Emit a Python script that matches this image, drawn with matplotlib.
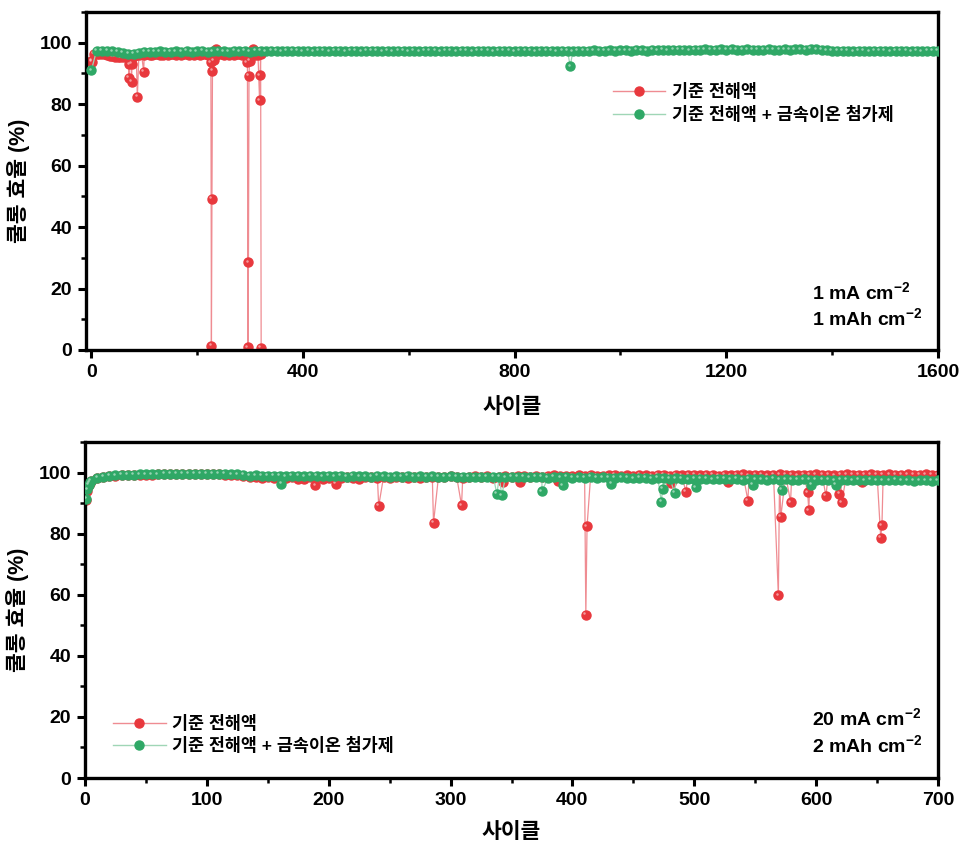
import numpy as np
import matplotlib
matplotlib.use("Agg")
import matplotlib.pyplot as plt
from matplotlib.lines import Line2D
from matplotlib.transforms import ScaledTranslation

plt.rcParams['font.family'] = ['Liberation Sans', 'Noto Sans CJK KR']
plt.rcParams['font.weight'] = 'bold'
plt.rcParams['axes.labelweight'] = 'bold'
plt.rcParams['mathtext.fontset'] = 'custom'
plt.rcParams['mathtext.rm'] = 'Liberation Sans:bold'
plt.rcParams['mathtext.default'] = 'rm'
plt.rcParams['axes.unicode_minus'] = True

RED = '#e8383d'
GREEN = '#2fa866'
RED_LINE = '#ef8c92'
GREEN_LINE = '#9fd6b6'

LBL_BASE = '기준 전해액'
LBL_ADD = '기준 전해액 + 금속이온 첨가제'
XLABEL = '사이클'
YLABEL = '쿨롱 효율 (%)'

# ---- top panel: 1 mA cm-2, 1 mAh cm-2 ----
top_green_cyc = np.arange(0, 1601, 10)
top_green_val = [
    91.0,
    97.4, 97.3, 97.4, 97.2, 97.0, 96.7, 96.3, 96.4, 96.7, 97.0,
    97.1, 97.0, 97.2, 97.1, 97.0, 97.2, 97.1, 97.3, 97.0, 97.2,
    97.3, 97.1, 97.2, 97.3, 97.2, 97.1, 97.3, 97.2, 97.3, 97.1,
    97.4, 97.3, 97.2, 97.3, 97.4, 97.2, 97.3, 97.4, 97.3, 97.2,
    97.3, 97.2, 97.4, 97.3, 97.2, 97.3, 97.4, 97.2, 97.3, 97.3,
    97.2, 97.3, 97.4, 97.3, 97.2, 97.3, 97.2, 97.4, 97.3, 97.2,
    97.3, 97.2, 97.3, 97.4, 97.3, 97.2, 97.3, 97.3, 97.2, 97.4,
    97.3, 97.2, 97.3, 97.4, 97.3, 97.2, 97.3, 97.4, 97.3, 97.2,
    97.3, 97.4, 97.3, 97.2, 97.3, 97.4, 97.3, 97.2, 97.3, 97.3,
    97.2, 97.3, 97.4, 97.3, 97.5, 97.4, 97.3, 97.5, 97.4, 97.5,
    97.5, 97.4, 97.6, 97.5, 97.4, 97.6, 97.5, 97.6, 97.5, 97.6,
    97.7, 97.6, 97.5, 97.7, 97.6, 97.8, 97.7, 97.6, 97.8, 97.7,
    97.8, 97.7, 97.6, 97.8, 97.7, 97.6, 97.7, 97.8, 97.6, 97.7,
    97.8, 97.7, 97.9, 97.8, 97.7, 98.0, 97.8, 97.6, 97.5, 97.4,
    97.3, 97.4, 97.3, 97.2, 97.4, 97.3, 97.2, 97.3, 97.4, 97.3,
    97.2, 97.3, 97.4, 97.3, 97.2, 97.3, 97.2, 97.3, 97.4, 97.3,
]
top_green_spk_cyc = [905]
top_green_spk_val = [92.3]

top_red_cyc = np.arange(0, 321, 5)
top_red_val = [
    94.2,
    96.3, 96.4, 96.2, 96.3, 96.2, 96.0, 95.8, 95.6, 95.5, 95.4,
    95.3, 95.2, 95.4, 95.5, 95.7, 95.8, 96.0, 96.1, 96.2, 96.1,
    96.2, 96.0, 96.1, 96.3, 96.2, 95.9, 96.1, 96.2, 96.0, 96.2,
    96.3, 96.1, 96.2, 96.0, 96.2, 96.3, 96.1, 96.2, 96.0, 96.3,
    96.1, 96.2, 96.3, 96.1, 96.0, 96.2, 96.1, 96.3, 96.2, 96.1,
    96.2, 96.0, 96.3, 96.1, 96.2, 96.3, 96.1, 96.0, 96.2, 96.1,
    96.2, 96.1, 96.0, 96.2,
]
top_red_spk_cyc = [1, 71, 72, 76, 77, 87, 99, 226, 227, 228, 229, 231, 236,
                   294, 296, 297, 298, 299, 306, 318, 319, 321]
top_red_spk_val = [93.8, 88.5, 93.0, 87.2, 93.2, 82.3, 90.6, 93.6, 1.4, 49.1, 90.8, 94.3, 97.8,
                   93.6, 0.9, 28.5, 89.2, 94.0, 97.8, 81.2, 89.4, 0.8]

# ---- bottom panel: 20 mA cm-2, 2 mAh cm-2 ----
bot_cyc = np.arange(5, 701, 5)
bot_green_val = [
    97.3, 98.2, 98.7, 99.0, 99.1, 99.2, 99.3, 99.3, 99.4, 99.4,
    99.4, 99.4, 99.5, 99.5, 99.5, 99.5, 99.5, 99.5, 99.5, 99.5,
    99.5, 99.5, 99.5, 99.4, 99.4, 99.3, 99.0, 99.1, 99.0, 99.0,
    98.9, 99.0, 98.8, 98.9, 99.0, 98.8, 98.9, 98.9, 98.8, 98.9,
    98.8, 98.9, 98.7, 98.9, 98.8, 98.8, 98.7, 98.9, 98.8, 98.7,
    98.8, 98.7, 98.9, 98.6, 98.8, 98.7, 98.8, 98.6, 98.7, 98.8,
    98.6, 98.7, 98.5, 98.7, 98.6, 98.5, 98.7, 98.6, 98.4, 98.6,
    98.5, 98.6, 98.4, 98.5, 98.6, 98.3, 98.5, 98.4, 98.5, 98.3,
    98.4, 98.3, 98.5, 98.2, 98.4, 98.3, 98.2, 98.4, 98.3, 98.1,
    98.3, 98.2, 98.0, 98.2, 98.1, 97.9, 98.1, 98.0, 97.8, 98.0,
    97.9, 98.0, 97.8, 97.9, 98.0, 97.8, 97.9, 97.7, 97.9, 97.8,
    97.8, 97.7, 97.9, 97.6, 97.8, 97.7, 97.6, 97.8, 97.7, 97.6,
    97.7, 97.6, 97.5, 97.7, 97.6, 97.5, 97.6, 97.4, 97.6, 97.5,
    97.5, 97.4, 97.6, 97.4, 97.5, 97.3, 97.4, 97.5, 97.3, 97.4,
]
bot_green_spk_cyc = [1, 2, 3, 4, 161, 338, 342, 375, 392, 432, 473, 474, 484, 501,
                     548, 572, 596, 616]
bot_green_spk_val = [91.5, 94.5, 96.0, 96.8, 96.2, 93.0, 92.5, 93.9, 95.8, 96.2, 90.5, 94.7, 93.3, 95.2,
                     96.0, 94.3, 96.0, 96.0]

bot_red_val = [
    97.2, 98.1, 98.6, 98.9, 99.0, 99.1, 99.2, 99.2, 99.3, 99.3,
    99.3, 99.4, 99.4, 99.4, 99.4, 99.4, 99.4, 99.4, 99.4, 99.4,
    99.4, 99.4, 99.3, 99.3, 99.2, 99.0, 98.6, 98.4, 98.2, 98.5,
    98.3, 98.6, 98.2, 98.5, 98.0, 97.8, 98.4, 98.6, 97.9, 98.3,
    98.4, 98.2, 98.6, 98.3, 97.9, 98.4, 98.5, 98.2, 98.6, 98.3,
    98.5, 98.7, 98.3, 98.6, 98.2, 98.5, 98.7, 98.4, 98.6, 98.8,
    98.6, 98.3, 98.7, 98.9, 98.5, 98.8, 98.3, 98.7, 98.9, 98.6,
    98.8, 99.0, 98.7, 98.9, 98.6, 98.9, 99.1, 98.8, 99.0, 98.9,
    99.1, 98.9, 99.2, 99.0, 98.8, 99.1, 99.2, 98.9, 99.1, 99.0,
    99.2, 99.1, 98.9, 99.2, 99.3, 99.0, 99.2, 99.1, 99.3, 99.2,
    99.1, 99.3, 99.2, 99.0, 99.3, 99.1, 99.2, 99.4, 99.1, 99.2,
    99.3, 99.1, 99.2, 99.4, 99.2, 99.3, 99.1, 99.3, 99.2, 99.4,
    99.2, 99.3, 99.1, 99.3, 99.4, 99.2, 99.3, 99.2, 99.4, 99.3,
    99.2, 99.4, 99.3, 99.2, 99.4, 99.3, 99.2, 99.4, 99.3, 99.2,
]
bot_red_spk_cyc = [1, 2, 3, 4, 189, 206, 241, 286, 309, 343, 357, 388, 411, 412,
                   481, 493, 528, 544, 569, 571, 579, 593, 594, 608, 619, 621, 638, 653, 654]
bot_red_spk_val = [91.0, 94.0, 95.8, 96.6, 95.8, 96.3, 89.0, 83.5, 89.3, 97.0, 96.9, 97.1, 53.5, 82.4,
                   96.5, 93.6, 96.8, 90.8, 59.8, 85.4, 90.3, 93.5, 87.6, 92.3, 93.0, 90.2, 97.0, 78.7, 82.7]


def merge(cyc, val, spk_cyc, spk_val):
    x = np.concatenate([np.asarray(cyc, float), np.asarray(spk_cyc, float)])
    y = np.concatenate([np.asarray(val, float), np.asarray(spk_val, float)])
    order = np.argsort(x, kind='stable')
    return x[order], y[order]


def draw_series(ax, x, y, col, lcol, z):
    ax.plot(x, y, '-', color=lcol, lw=0.9, zorder=z)
    ax.plot(x, y, 'o', color=col, mec=col, ms=6.5, zorder=z + 0.1)
    # small highlight so the dots look like little balls
    hl = ax.transData + ScaledTranslation(-1.2 / 72, 1.2 / 72, ax.figure.dpi_scale_trans)
    ax.plot(x, y, 'o', color='white', mec='none', ms=1.8, alpha=0.5,
            transform=hl, zorder=z + 0.2)


def style_axes(ax, xmin, xmax, xmaj, xmin_step):
    ax.set_xlim(xmin, xmax)
    ax.set_ylim(0, 110)
    ax.set_xticks(np.arange(0, xmax + 1, xmaj))
    ax.set_xticks(np.arange(0, xmax + 1, xmin_step), minor=True)
    ax.set_yticks(np.arange(0, 101, 20))
    ax.set_yticks(np.arange(10, 111, 20), minor=True)
    for s in ax.spines.values():
        s.set_linewidth(2.4)
    ax.tick_params(which='major', direction='out', length=6, width=2.2, labelsize=14, pad=4)
    ax.tick_params(which='minor', direction='out', length=3.5, width=1.8)
    ax.set_xlabel(XLABEL, fontsize=15.5)
    ax.set_ylabel(YLABEL, fontsize=15.5)


def legend_handles():
    return [
        Line2D([], [], color=RED_LINE, lw=1, marker='o', mfc=RED, mec=RED, ms=6.5),
        Line2D([], [], color=GREEN_LINE, lw=1, marker='o', mfc=GREEN, mec=GREEN, ms=6.5),
    ]


fig = plt.figure(figsize=(9.64, 8.47), dpi=100)

# top
ax1 = fig.add_axes([86 / 964, 1 - 350 / 847, 852 / 964, 338 / 847])
xr, yr = merge(top_red_cyc, top_red_val, top_red_spk_cyc, top_red_spk_val)
xg, yg = merge(top_green_cyc, top_green_val, top_green_spk_cyc, top_green_spk_val)
draw_series(ax1, xr, yr, RED, RED_LINE, 2)
draw_series(ax1, xg, yg, GREEN, GREEN_LINE, 3)
style_axes(ax1, -10, 1600, 400, 200)
ax1.xaxis.set_label_coords(0.5, -0.14)
ax1.yaxis.set_label_coords(-0.066, 0.5)
ax1.legend(legend_handles(), [LBL_BASE, LBL_ADD], loc='upper left',
           bbox_to_anchor=(0.6, 0.835), frameon=False, fontsize=12.5,
           handlelength=3.0, handletextpad=0.4, labelspacing=0.3, numpoints=1)
ax1.text(0.852, 0.172, '1 mA cm$^{-2}$', transform=ax1.transAxes, fontsize=14,
         va='center', ha='left')
ax1.text(0.852, 0.095, '1 mAh cm$^{-2}$', transform=ax1.transAxes, fontsize=14,
         va='center', ha='left')

# bottom
ax2 = fig.add_axes([85 / 964, 1 - 778 / 847, 853 / 964, 336 / 847])
xr, yr = merge(bot_cyc, bot_red_val, bot_red_spk_cyc, bot_red_spk_val)
xg, yg = merge(bot_cyc, bot_green_val, bot_green_spk_cyc, bot_green_spk_val)
draw_series(ax2, xr, yr, RED, RED_LINE, 2)
draw_series(ax2, xg, yg, GREEN, GREEN_LINE, 3)
style_axes(ax2, 0, 700, 100, 50)
ax2.xaxis.set_label_coords(0.5, -0.13)
ax2.yaxis.set_label_coords(-0.066, 0.5)
ax2.legend(legend_handles(), [LBL_BASE, LBL_ADD], loc='upper left',
           bbox_to_anchor=(0.015, 0.235), frameon=False, fontsize=12.5,
           handlelength=3.0, handletextpad=0.4, labelspacing=0.3, numpoints=1)
ax2.text(0.852, 0.179, '20 mA cm$^{-2}$', transform=ax2.transAxes, fontsize=14,
         va='center', ha='left')
ax2.text(0.852, 0.098, '2 mAh cm$^{-2}$', transform=ax2.transAxes, fontsize=14,
         va='center', ha='left')

fig.savefig('out.png', dpi=100)
